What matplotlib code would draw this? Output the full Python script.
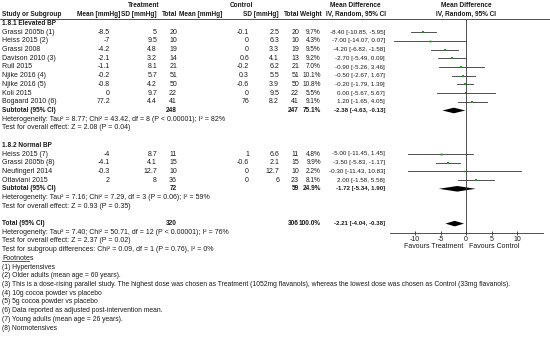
import matplotlib.pyplot as plt
from matplotlib.lines import Line2D

plt.rcParams['font.family'] = ['Liberation Sans', 'DejaVu Sans']

# ---- data ----
studies_1 = ["Grassi 2005b (1)", "Heiss 2015 (2)", "Grassi 2008", "Davison 2010 (3)", "Rull 2015",
             "Njike 2016 (4)", "Njike 2016 (5)", "Koli 2015", "Bogaard 2010 (6)"]
t_mean_1 = ["-8.5", "-7", "-4.2", "-2.1", "-1.1", "-0.2", "-0.8", "0", "77.2"]
t_sd_1 = ["5", "9.5", "4.8", "3.2", "8.1", "5.7", "4.2", "9.7", "4.4"]
t_n_1 = [20, 10, 19, 14, 21, 51, 50, 22, 41]
c_mean_1 = ["-0.1", "0", "0", "0.6", "-0.2", "0.3", "-0.6", "0", "76"]
c_sd_1 = ["2.5", "6.3", "3.3", "4.1", "6.2", "5.5", "3.9", "9.5", "8.2"]
c_n_1 = [20, 10, 19, 13, 21, 51, 50, 22, 41]
weight_1 = [9.7, 4.3, 9.5, 9.2, 7.0, 10.1, 10.8, 5.5, 9.1]
md_1 = [-8.40, -7.00, -4.20, -2.70, -0.90, -0.50, -0.20, 0.00, 1.20]
lo_1 = [-10.85, -14.07, -6.82, -5.49, -5.26, -2.67, -1.79, -5.67, -1.65]
hi_1 = [-5.95, 0.07, -1.58, 0.09, 3.46, 1.67, 1.39, 5.67, 4.05]

studies_2 = ["Heiss 2015 (7)", "Grassi 2005b (8)", "Neufingerl 2014", "Ottaviani 2015"]
t_mean_2 = ["-4", "-4.1", "-0.3", "2"]
t_sd_2 = ["8.7", "4.1", "12.7", "8"]
t_n_2 = [11, 15, 10, 36]
c_mean_2 = ["1", "-0.6", "0", "0"]
c_sd_2 = ["6.6", "2.1", "12.7", "6"]
c_n_2 = [11, 15, 10, 23]
weight_2 = [4.8, 9.9, 2.2, 8.1]
md_2 = [-5.00, -3.50, -0.30, 2.00]
lo_2 = [-11.45, -5.83, -11.43, -1.58]
hi_2 = [1.45, -1.17, 10.83, 5.58]

# subtotal / total: (md, lo, hi, n_t, n_c, weight)
sub_1 = (-2.38, -4.63, -0.13, 248, 247, "75.1%")
sub_2 = (-1.72, -5.34, 1.90, 72, 59, "24.9%")
total = (-2.21, -4.04, -0.38, 320, 306, "100.0%")

het_1 = ["Heterogeneity: Tau\u00b2 = 8.77; Chi\u00b2 = 43.42, df = 8 (P < 0.00001); I\u00b2 = 82%",
         "Test for overall effect: Z = 2.08 (P = 0.04)"]
het_2 = ["Heterogeneity: Tau\u00b2 = 7.16; Chi\u00b2 = 7.29, df = 3 (P = 0.06); I\u00b2 = 59%",
         "Test for overall effect: Z = 0.93 (P = 0.35)"]
het_t = ["Heterogeneity: Tau\u00b2 = 7.40; Chi\u00b2 = 50.71, df = 12 (P < 0.00001); I\u00b2 = 76%",
         "Test for overall effect: Z = 2.37 (P = 0.02)",
         "Test for subgroup differences: Chi\u00b2 = 0.09, df = 1 (P = 0.76), I\u00b2 = 0%"]

footnotes = [
    "(1) Hypertensives",
    "(2) Older adults (mean age = 60 years).",
    "(3) This is a dose-rising parallel study. The highest dose was chosen as Treatment (1052mg flavanols), "
    "whereas the lowest dose was chosen as Control (33mg flavanols).",
    "(4) 10g cocoa powder vs placebo",
    "(5) 5g cocoa powder vs placebo",
    "(6) Data reported as adjusted post-intervention mean.",
    "(7) Young adults (mean age = 26 years).",
    "(8) Normotensives",
]

ticks = [-10, -5, 0, 5, 10]

# ---- layout (pixels) ----
W, H = 550, 338
FS = 5.0
HF = FS - 0.3
MF = 4.5
TXT = '#1a1a1a'
row_h = 8.7
y0 = 23.5
header_line = 19.3
axis_y = 233
col_study = 2
col_tm, col_tsd, col_tn = 110, 157, 177
col_cm, col_csd, col_cn = 249, 279, 299
col_w, col_md = 321, 385
fx0, fx1 = 389.5, 542.5

fig = plt.figure(figsize=(W / 100, H / 100), dpi=100)
ax = fig.add_axes([0, 0, 1, 1])
ax.set_xlim(0, W)
ax.set_ylim(H, 0)
ax.axis('off')

fax = fig.add_axes([fx0 / W, 0, (fx1 - fx0) / W, 1])
fax.set_xlim(-15, 15)
fax.set_ylim(H, 0)
fax.patch.set_visible(False)
for s in ['top', 'left', 'right']:
    fax.spines[s].set_visible(False)
fax.spines['bottom'].set_position(('data', axis_y))
fax.spines['bottom'].set_linewidth(0.6)
fax.spines['bottom'].set_color('#333333')
fax.set_yticks([])
fax.set_xticks(ticks)
fax.set_xticklabels([str(t) for t in ticks])
fax.tick_params(axis='x', direction='inout', length=3, width=0.6, color='#333333',
                labelsize=FS, labelcolor=TXT, pad=0.5)


def t(x, y, s, ha='left', bold=False, **kw):
    ax.text(x, y, s, ha=ha, va='center', fontsize=kw.pop('size', FS), color=TXT,
            fontweight='bold' if bold else 'normal', **kw)


def row_y(i):
    return y0 + i * row_h


# headers
t(144, 5.5, "Treatment", ha='center', bold=True, size=HF)
t(241, 5.5, "Control", ha='center', bold=True, size=HF)
t(355, 5.5, "Mean Difference", ha='center', bold=True, size=HF)
t(466, 5.5, "Mean Difference", ha='center', bold=True, size=HF)
t(col_study, 14.3, "Study or Subgroup", bold=True, size=HF)
t(120, 14.3, "Mean [mmHg]", ha='right', bold=True, size=HF)
t(157, 14.3, "SD [mmHg]", ha='right', bold=True, size=HF)
t(177, 14.3, "Total", ha='right', bold=True, size=HF)
t(222, 14.3, "Mean [mmHg]", ha='right', bold=True, size=HF)
t(279, 14.3, "SD [mmHg]", ha='right', bold=True, size=HF)
t(299, 14.3, "Total", ha='right', bold=True, size=HF)
t(322, 14.3, "Weight", ha='right', bold=True, size=HF)
t(356, 14.3, "IV, Random, 95% CI", ha='center', bold=True, size=HF)
t(466, 14.3, "IV, Random, 95% CI", ha='center', bold=True, size=HF)
ax.plot([0, W], [header_line, header_line], color='#333333', lw=0.6)


def draw_summary(y, label, s):
    md, lo, hi, nt, nc, wt = s
    t(col_study, y, label, bold=True, size=HF)
    t(col_tn, y, str(nt), ha='right', bold=True, size=HF)
    t(col_cn, y, str(nc), ha='right', bold=True, size=HF)
    t(col_w, y, wt, ha='right', bold=True, size=HF)
    t(col_md, y, f"{md:.2f} [{lo:.2f}, {hi:.2f}]", ha='right', bold=True, size=MF - 0.1)
    h = 2.8
    fax.fill([lo, md, hi, md], [y, y - h, y, y + h], color='black', lw=0)


def draw_group(start, title, names, tm, tsd, tn, cm, csd, cn, w, md, lo, hi, sub, het):
    t(col_study, row_y(start), title, bold=True, size=HF)
    for k in range(len(names)):
        y = row_y(start + 1 + k)
        t(col_study, y, names[k])
        t(col_tm, y, tm[k], ha='right')
        t(col_tsd, y, tsd[k], ha='right')
        t(col_tn, y, str(tn[k]), ha='right')
        t(col_cm, y, cm[k], ha='right')
        t(col_csd, y, csd[k], ha='right')
        t(col_cn, y, str(cn[k]), ha='right')
        t(col_w, y, f"{w[k]:.1f}%", ha='right', size=MF + 0.2)
        t(col_md, y, f"{md[k]:.2f} [{lo[k]:.2f}, {hi[k]:.2f}]", ha='right', size=MF)
        fax.plot([lo[k], hi[k]], [y, y], color='#333333', lw=0.6)
        fax.plot(md[k], y, 's', color='#10a010', ms=0.9 + w[k] * 0.1, mew=0)
    ys = row_y(start + 1 + len(names))
    draw_summary(ys, "Subtotal (95% CI)", sub)
    for j, line in enumerate(het):
        t(col_study, ys + (j + 1) * row_h, line)


draw_group(0, "1.8.1 Elevated BP", studies_1, t_mean_1, t_sd_1, t_n_1, c_mean_1, c_sd_1,
           c_n_1, weight_1, md_1, lo_1, hi_1, sub_1, het_1)
draw_group(14, "1.8.2 Normal BP", studies_2, t_mean_2, t_sd_2, t_n_2, c_mean_2, c_sd_2,
           c_n_2, weight_2, md_2, lo_2, hi_2, sub_2, het_2)

yt = row_y(23)
draw_summary(yt, "Total (95% CI)", total)
for j, line in enumerate(het_t):
    t(col_study, yt + (j + 1) * row_h, line)

# footnotes
yf = row_y(27)
t(col_study, yf, "Footnotes")
fig.add_artist(Line2D([col_study / W, 29 / W], [1 - (yf + 3.0) / H, 1 - (yf + 3.0) / H],
                      color='#444444', lw=0.6))
for j, line in enumerate(footnotes):
    t(col_study, yf + (j + 1) * row_h, line, size=FS - 0.1)

# zero line and favours labels
fax.vlines(0, header_line, axis_y, color='#333333', lw=0.6)
fax.text(-0.6, 247, "Favours Treatment", ha='right', va='center', fontsize=FS, color=TXT)
fax.text(0.6, 247, "Favours Control", ha='left', va='center', fontsize=FS, color=TXT)

fig.savefig("out.png", dpi=100)
